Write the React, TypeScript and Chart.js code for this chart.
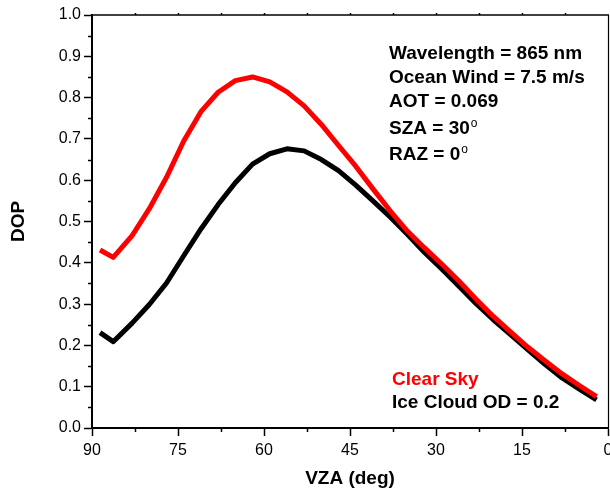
import { useEffect, useRef } from "react";
import { Chart, registerables } from "chart.js";

Chart.register(...registerables);

// Viewing zenith angle (deg) and degree of polarization for each case
const vzaDeg = [88.6, 86.3, 83, 80, 77, 74, 71, 68, 65, 62, 59, 56, 53, 50, 47, 44, 41, 38, 35, 32, 29, 26, 23, 20, 17, 14, 11, 8, 5, 2];
const clearSkyDop = [0.431, 0.413, 0.466, 0.531, 0.607, 0.695, 0.766, 0.813, 0.841, 0.850, 0.838, 0.814, 0.780, 0.735, 0.684, 0.634, 0.579, 0.526, 0.477, 0.436, 0.397, 0.356, 0.312, 0.270, 0.233, 0.196, 0.163, 0.131, 0.103, 0.076];
const iceCloudDop = [0.231, 0.209, 0.254, 0.299, 0.351, 0.417, 0.482, 0.541, 0.594, 0.639, 0.664, 0.676, 0.671, 0.650, 0.623, 0.588, 0.550, 0.511, 0.469, 0.425, 0.385, 0.343, 0.301, 0.262, 0.226, 0.190, 0.154, 0.121, 0.094, 0.068];

const seriesLabels = ["Clear Sky", "Ice Cloud OD = 0.2"];
const seriesColors = ["#ff0000", "#000000"];

// Simulation settings; "sup" marks a trailing degree symbol
const infoLines = [
  { text: "Wavelength = 865 nm", sup: false },
  { text: "Ocean Wind = 7.5 m/s", sup: false },
  { text: "AOT = 0.069", sup: false },
  { text: "SZA = 30", sup: true },
  { text: "RAZ = 0", sup: true },
];
const infoBaselines = [59, 83, 107, 134, 160];

const FONT = '"Liberation Sans", Arial, Helvetica, sans-serif';

// Frame, minor ticks, settings text and the text legend
const decorPlugin = {
  id: "decor",
  afterDraw(chart: any) {
    const { ctx, chartArea, scales } = chart;
    const { left, right, top, bottom } = chartArea;
    const x = scales.x;
    const y = scales.y;
    ctx.save();
    ctx.strokeStyle = "#000";

    ctx.lineWidth = 1.3;
    ctx.beginPath();
    ctx.moveTo(left, top);
    ctx.lineTo(right + 1, top);
    ctx.stroke();
    ctx.lineWidth = 1.2;
    ctx.beginPath();
    ctx.moveTo(right + 0.5, top);
    ctx.lineTo(right + 0.5, bottom);
    ctx.stroke();

    ctx.lineWidth = 1.5;
    ctx.beginPath();
    for (let v = 0.05; v < 1; v += 0.1) {
      const py = Math.round(y.getPixelForValue(v)) + 0.5;
      ctx.moveTo(left, py);
      ctx.lineTo(left - 4, py);
    }
    for (let d = 7.5; d < 90; d += 15) {
      const px = Math.round(x.getPixelForValue(d)) + 0.5;
      ctx.moveTo(px, bottom);
      ctx.lineTo(px, bottom + 4);
    }
    for (let d = 7.5; d < 90; d += 7.5) {
      const px = Math.round(x.getPixelForValue(d)) + 0.5;
      ctx.moveTo(px, top);
      ctx.lineTo(px, top - 2);
    }
    ctx.stroke();

    ctx.textAlign = "left";
    ctx.textBaseline = "alphabetic";
    ctx.fillStyle = "#000";
    infoLines.forEach((line, i) => {
      const by = infoBaselines[i];
      ctx.font = `bold 19px ${FONT}`;
      ctx.fillText(line.text, 389, by);
      if (line.sup) {
        const w = ctx.measureText(line.text).width;
        ctx.font = `12px ${FONT}`;
        ctx.fillText("o", 389 + w + 1, by - 7);
      }
    });

    ctx.font = `bold 19px ${FONT}`;
    ctx.fillStyle = seriesColors[0];
    ctx.fillText(seriesLabels[0], 392, 385);
    ctx.fillStyle = seriesColors[1];
    ctx.fillText(seriesLabels[1], 392, 408);
    ctx.restore();
  },
};

export default function App() {
  const canvasRef = useRef<HTMLCanvasElement | null>(null);

  useEffect(() => {
    if (!canvasRef.current) return;
    const chart = new Chart(canvasRef.current, {
      type: "line",
      data: {
        datasets: [
          {
            label: seriesLabels[0],
            data: vzaDeg.map((d, i) => ({ x: d, y: clearSkyDop[i] })),
            borderColor: seriesColors[0],
            backgroundColor: seriesColors[0],
            borderWidth: 5,
            pointRadius: 0,
            tension: 0,
            fill: false,
            borderJoinStyle: "round",
          },
          {
            label: seriesLabels[1],
            data: vzaDeg.map((d, i) => ({ x: d, y: iceCloudDop[i] })),
            borderColor: seriesColors[1],
            backgroundColor: seriesColors[1],
            borderWidth: 5,
            pointRadius: 0,
            tension: 0,
            fill: false,
            borderJoinStyle: "round",
          },
        ],
      },
      options: {
        responsive: false,
        animation: false,
        devicePixelRatio: 1,
        layout: { padding: { top: 15, right: 2, left: 0, bottom: 0 } },
        plugins: {
          legend: { display: false },
          tooltip: { enabled: false },
        },
        scales: {
          x: {
            type: "linear",
            min: 0,
            max: 90,
            reverse: true,
            afterFit: (s: any) => {
              s.height = 63;
              s.paddingLeft = 0;
              s.paddingRight = 0;
            },
            ticks: {
              stepSize: 15,
              autoSkip: false,
              maxRotation: 0,
              padding: 5,
              color: "#000",
              font: { family: FONT, size: 16 },
            },
            grid: {
              drawOnChartArea: false,
              drawTicks: true,
              tickLength: 8,
              tickWidth: 1.5,
              color: "#000",
            },
            border: { display: true, color: "#000", width: 2 },
            title: {
              display: true,
              text: "VZA (deg)",
              color: "#000",
              font: { family: FONT, size: 19, weight: "bold" },
              padding: { top: 0, bottom: 1 },
            },
          },
          y: {
            min: 0,
            max: 1,
            afterFit: (s: any) => {
              s.width = 92;
              s.paddingTop = 0;
              s.paddingBottom = 0;
            },
            ticks: {
              stepSize: 0.1,
              padding: 3,
              color: "#000",
              font: { family: FONT, size: 16 },
              callback: (v: any) => Number(v).toFixed(1),
            },
            grid: {
              drawOnChartArea: false,
              drawTicks: true,
              tickLength: 8,
              tickWidth: 1.5,
              color: "#000",
            },
            border: { display: true, color: "#000", width: 2 },
            title: {
              display: true,
              text: "DOP",
              color: "#000",
              font: { family: FONT, size: 19, weight: "bold" },
              padding: { top: 7, bottom: 0 },
            },
          },
        },
      },
      plugins: [decorPlugin],
    });
    return () => chart.destroy();
  }, []);

  return (
    <div style={{ position: "absolute", left: 0, top: 0, width: 610, height: 491, background: "#fff" }}>
      <canvas ref={canvasRef} width={610} height={491} style={{ display: "block" }} />
    </div>
  );
}
